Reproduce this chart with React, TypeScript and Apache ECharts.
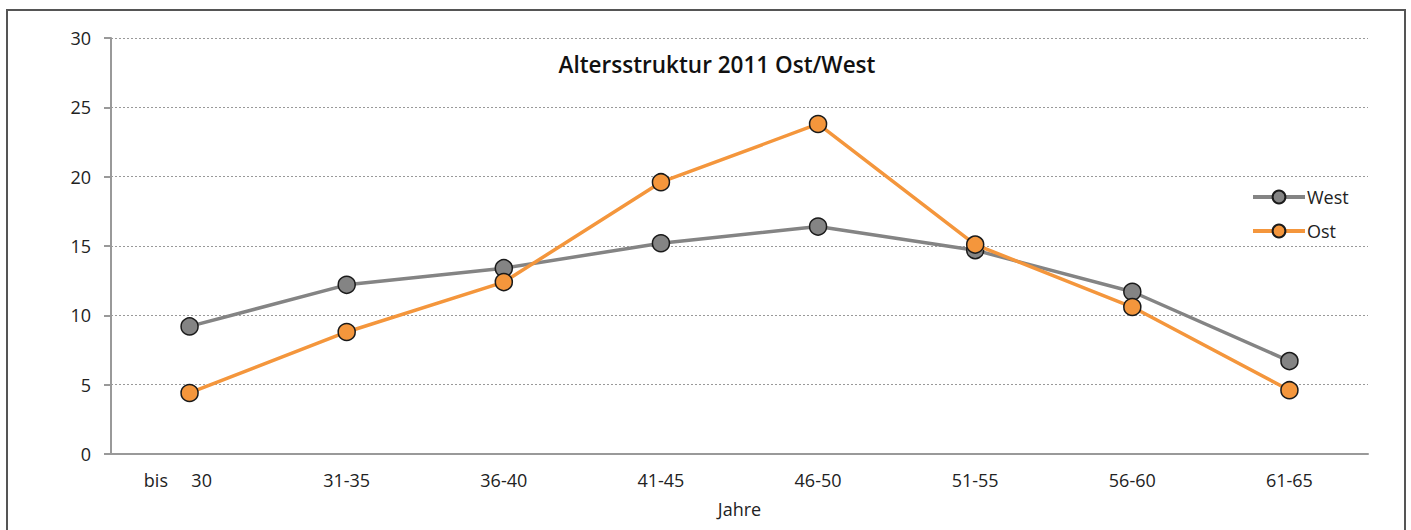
import React, { useEffect, useRef } from "react";
import * as echarts from "echarts";

const categories = ["bis     30     ", "31-35", "36-40", "41-45", "46-50", "51-55", "56-60", "61-65"];
const westValues = [9.2, 12.2, 13.4, 15.2, 16.4, 14.7, 11.7, 6.7];
const ostValues = [4.4, 8.8, 12.4, 19.6, 23.8, 15.1, 10.6, 4.6];
const yTicks = { min: 0, max: 30, interval: 5 };

const FONT = "'Open Sans', 'Noto Sans', sans-serif";

export default function App() {
  const ref = useRef<HTMLDivElement>(null);
  useEffect(() => {
    if (!ref.current) return;
    const chart = echarts.init(ref.current, undefined, { renderer: "svg" });
    chart.setOption({
      animation: false,
      backgroundColor: "#ffffff",
      textStyle: { fontFamily: FONT },
      title: {
        text: "Altersstruktur 2011 Ost/West",
        left: 712,
        textAlign: "center",
        top: 48,
        textStyle: { fontSize: 22.5, fontWeight: 600, color: "#111", fontFamily: FONT },
      },
      graphic: [
        {
          type: "rect",
          shape: { x: 7, y: 10, width: 1398, height: 540 },
          style: { fill: "none", stroke: "#555", lineWidth: 2 },
          silent: true,
        },
      ],
      legend: {
        orient: "vertical",
        left: 1246,
        top: 183,
        itemWidth: 52,
        itemHeight: 16,
        itemGap: 16,
        lineStyle: { width: 4 },
        textStyle: { fontSize: 18, color: "#222", fontFamily: FONT, padding: [0, 0, 0, -3] },
        data: ["West", "Ost"],
      },
      grid: { left: 111, top: 38, width: 1257, height: 416 },
      xAxis: {
        type: "category",
        data: categories,
        boundaryGap: true,
        name: "Jahre",
        nameLocation: "middle",
        nameGap: 46,
        nameTextStyle: { fontSize: 18, color: "#222", fontFamily: FONT },
        axisLine: { lineStyle: { color: "#999", width: 2 } },
        axisTick: { show: false },
        axisLabel: { fontSize: 18, color: "#222", margin: 17, fontFamily: FONT },
      },
      yAxis: {
        type: "value",
        min: yTicks.min,
        max: yTicks.max,
        interval: yTicks.interval,
        axisLine: { show: true, lineStyle: { color: "#999", width: 2 } },
        axisTick: { show: true, length: 7, lineStyle: { color: "#999", width: 2 } },
        axisLabel: { fontSize: 18, color: "#222", margin: 20, fontFamily: FONT },
        splitLine: { lineStyle: { color: "#999", type: [2, 2], width: 1 } },
      },
      series: [
        {
          name: "West",
          type: "line",
          data: westValues,
          symbol: "circle",
          symbolSize: 17,
          lineStyle: { color: "#848484", width: 3.5 },
          itemStyle: { color: "#848484", borderColor: "#1a1a1a", borderWidth: 1.5 },
          z: 2,
        },
        {
          name: "Ost",
          type: "line",
          data: ostValues,
          symbol: "circle",
          symbolSize: 17,
          lineStyle: { color: "#F4963C", width: 3.5 },
          itemStyle: { color: "#F4963C", borderColor: "#1a1a1a", borderWidth: 1.5 },
          z: 3,
        },
      ],
    });
    return () => chart.dispose();
  }, []);
  return (
    <div
      ref={ref}
      style={{ position: "absolute", left: 0, top: 0, width: 1411, height: 530 }}
    />
  );
}
